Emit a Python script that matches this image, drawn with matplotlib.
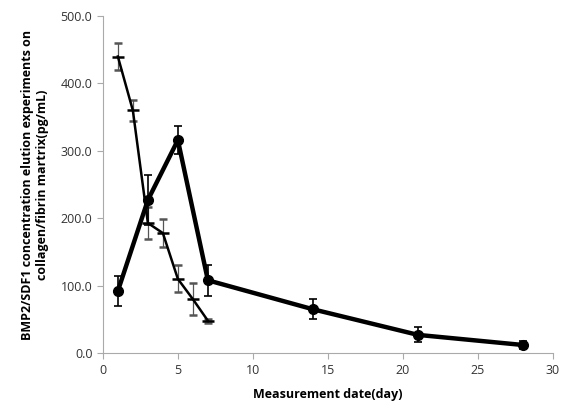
import matplotlib
matplotlib.use("Agg")
import matplotlib.pyplot as plt
from matplotlib.ticker import FormatStrFormatter

plt.rcParams['font.family'] = ['Open Sans', 'DejaVu Sans']

# thin line (dash markers)
days_a = [1, 2, 3, 4, 5, 6, 7]
conc_a = [440, 360, 193, 178, 110, 80, 48]
err_a = [20, 15, 24, 21, 20, 24, 3]

# thick line (circle markers)
days_b = [1, 3, 5, 7, 14, 21, 28]
conc_b = [92, 227, 316, 108, 65, 27, 12]
err_b = [22, 37, 21, 23, 15, 11, 6]

fig = plt.figure(figsize=(5.62, 4.12), dpi=100)
ax = fig.add_axes([0.183, 0.143, 0.801, 0.818])

ax.errorbar(days_a, conc_a, yerr=err_a, color='black', lw=1.8, marker='_',
            ms=9, mew=1.8, ecolor='#555555', elinewidth=0.9, capsize=3, capthick=0.9)
ax.errorbar(days_b, conc_b, yerr=err_b, color='black', lw=3.2, marker='o',
            ms=7, ecolor='black', elinewidth=1.2, capsize=3, capthick=1.2)

ax.set_xlim(0, 30)
ax.set_ylim(0, 500)
ax.set_xticks([0, 5, 10, 15, 20, 25, 30])
ax.set_yticks([0, 100, 200, 300, 400, 500])
ax.yaxis.set_major_formatter(FormatStrFormatter('%.1f'))

for side in ['top', 'right']:
    ax.spines[side].set_visible(False)
for side in ['left', 'bottom']:
    ax.spines[side].set_color('#aaaaaa')
ax.tick_params(colors='#aaaaaa', labelcolor='#333333', labelsize=9, length=4)

ax.set_xlabel('Measurement date(day)', fontsize=9, fontweight='bold', labelpad=8)
ax.set_ylabel('BMP2/SDF1 concentration elution experiments on\ncollagen/fibrin martrix(pg/mL)',
              fontsize=9, fontweight='bold', labelpad=8)

fig.savefig('out.png', dpi=100)
